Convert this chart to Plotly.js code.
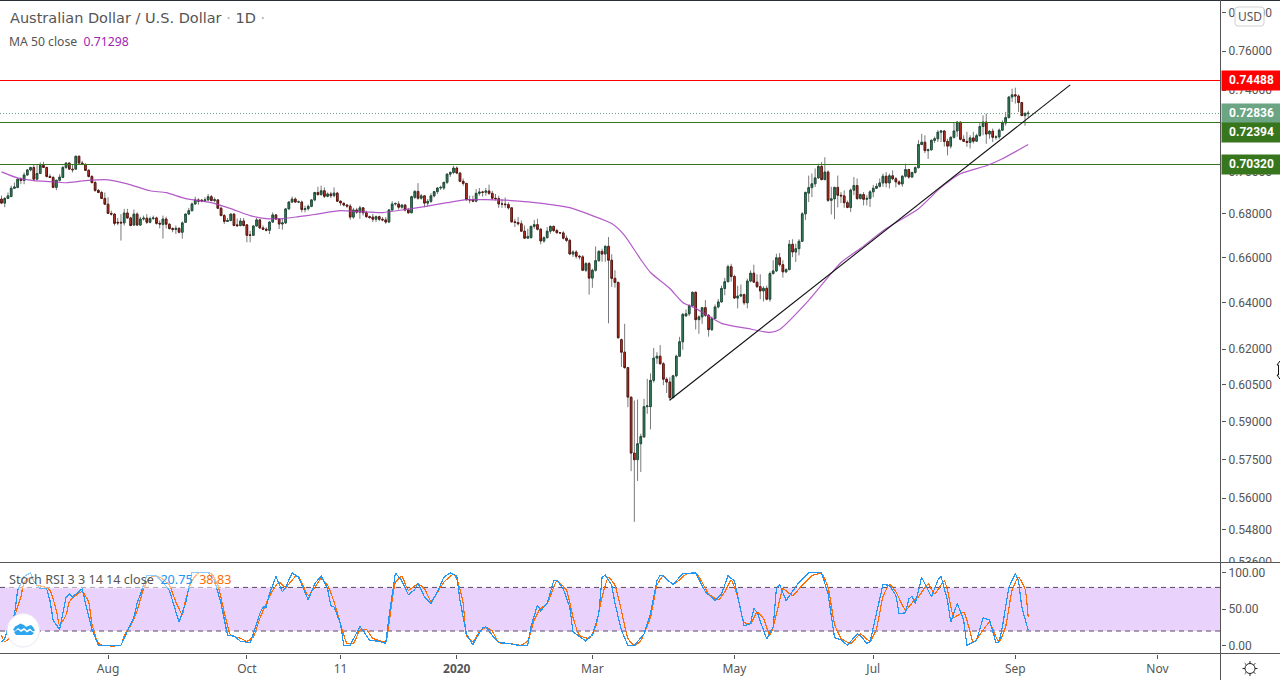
<!DOCTYPE html>
<html>
<head>
<meta charset="utf-8">
<script src="https://cdn.plot.ly/plotly-3.0.1.min.js"></script>
<style>html,body{margin:0;padding:0;background:#fff;overflow:hidden}
.scatterlayer .trace:nth-child(-n+4) .js-line{shape-rendering:crispEdges}</style>
</head>
<body>
<div id="chart" style="width:1280px;height:680px"></div>
<script>
const open = [
.6869,.6850,.6872,.6881,.6920,.6924,.6963,.6957,.6983,.7007,
.7019,.6963,.6990,.7029,.7019,.6976,.6971,.6924,.6958,.6971,
.7019,.7040,.7011,.7011,.7073,.7040,.7034,.7005,.6976,.6947,
.6910,.6900,.6872,.6845,.6802,.6799,.6761,.6761,.6758,.6804,
.6781,.6748,.6799,.6748,.6776,.6780,.6761,.6778,.6781,.6756,
.6751,.6776,.6752,.6732,.6728,.6733,.6715,.6761,.6799,.6815,
.6846,.6865,.6864,.6861,.6865,.6880,.6862,.6865,.6826,.6792,
.6765,.6769,.6799,.6749,.6746,.6767,.6749,.6703,.6701,.6744,
.6772,.6735,.6729,.6724,.6762,.6795,.6776,.6753,.6758,.6823,
.6855,.6869,.6855,.6855,.6820,.6824,.6835,.6865,.6900,.6890,.6908,
.6882,.6893,.6885,.6897,.6859,
.6849,.6841,.6836,.6785,.6818,.6808,.6828,.6805,.6787,.6785,
.6775,.6787,.6775,.6772,.6762,.6818,.6846,.6846,.6831,.6841,
.6818,.6805,.6877,.6905,.6873,.6884,.6850,.6858,.6884,.6904,
.6921,.6921,.6948,.6987,.6995,.7016,.6992,.6953,.6943,.6866,
.6866,.6859,.6896,.6902,.6901,.6907,.6896,.6873,.6871,.6846,
.6846,.6843,.6828,.6763,.6760,.6754,.6720,.6688,.6690,.6742,
.6750,.6729,.6675,.6690,.6720,.6742,.6723,.6713,.6712,.6688,
.6678,.6616,.6625,.6606,.6603,.6543,.6573,.6508,.6543,.6586,
.6628,.6616,.6651,.6588,.6507,
.6489,.6240,.6187,.6122,.6000,.5775,.5749,.5812,.5839,.5961,
.5961,.6069,.6162,.6170,.6138,.6074,.6062,.5998,.6088,.6170,
.6231,.6342,.6351,.6386,.6445,.6326,.6338,.6378,.6345,.6283,
.6331,.6381,.6403,.6462,.6492,.6559,.6515,.6420,.6429,.6435,
.6399,.6495,.6530,.6490,.6470,.6451,.6463,.6415,.6528,.6540,
.6599,.6568,.6536,.6546,.6660,.6625,.6640,.6674,.6800,.6897,
.6923,.6941,.6969,.7024,.6961,.6997,.6863,.6870,.6924,.6887,
.6884,.6852,.6830,.6911,.6933,.6871,.6890,.6868,.6872,.6903,
.6920,.6929,.6945,.6977,.6945,.6979,.6965,.6950,.6940,.6977,
.7009,.6973,.6995,.7018,.7130,.7141,.7100,.7104,.7150,.7158,
.7190,.7196,.7145,.7122,.7165,.7196,.7240,.7155,.7145,.7140,
.7162,.7146,.7173,.7218,.7240,.7181,.7195,.7165,.7167,.7200,
.7235,.7262,.7365,.7376,.7370,.7337,.7272,.7282];
const high = [
.6885,.6878,.6900,.6932,.6947,.6966,.6971,.6995,.7011,.7022,
.7035,.7035,.7043,.7046,.7022,.6987,.6979,.6958,.6987,.7027,
.7043,.7043,.7035,.7075,.7075,.7051,.7038,.7011,.6982,.6955,
.6916,.6908,.6900,.6877,.6815,.6802,.6781,.6799,.6823,.6823,
.6787,.6820,.6807,.6787,.6792,.6799,.6787,.6792,.6787,.6769,
.6792,.6787,.6756,.6738,.6746,.6738,.6765,.6802,.6828,.6854,
.6880,.6873,.6869,.6877,.6893,.6888,.6877,.6869,.6834,.6799,
.6781,.6802,.6802,.6778,.6781,.6781,.6753,.6722,.6744,.6781,
.6776,.6746,.6738,.6765,.6807,.6799,.6781,.6776,.6826,.6859,
.6881,.6877,.6862,.6862,.6838,.6843,.6869,.6903,.6927,.6932,.6924,
.6900,.6903,.6924,.6903,.6862,
.6854,.6846,.6846,.6828,.6828,.6838,.6831,.6815,.6792,.6800,
.6792,.6792,.6785,.6785,.6823,.6859,.6854,.6859,.6846,.6846,
.6828,.6885,.6911,.6944,.6893,.6888,.6869,.6896,.6908,.6926,
.6932,.6950,.6990,.7000,.7027,.7024,.6998,.6966,.6943,.6885,
.6885,.6916,.6921,.6908,.6921,.6937,.6908,.6893,.6885,.6869,
.6877,.6854,.6831,.6777,.6785,.6769,.6746,.6731,.6746,.6772,
.6777,.6735,.6696,.6739,.6746,.6746,.6731,.6716,.6720,.6700,
.6685,.6633,.6633,.6612,.6611,.6580,.6580,.6550,.6650,.6633,
.6640,.6655,.6693,.6615,.6543,
.6492,.6245,.6308,.6125,.6000,.5986,.5990,.5852,.5993,.6075,
.6098,.6205,.6187,.6217,.6145,.6082,.6082,.6092,.6176,.6252,
.6355,.6370,.6393,.6449,.6450,.6345,.6380,.6411,.6350,.6340,
.6392,.6416,.6474,.6509,.6568,.6572,.6523,.6474,.6480,.6440,
.6506,.6543,.6568,.6525,.6525,.6472,.6475,.6537,.6588,.6617,
.6620,.6588,.6552,.6680,.6683,.6663,.6683,.6808,.6904,.6980,
.6990,.7014,.7037,.7045,.7068,.7005,.6927,.6927,.6980,.6902,
.6910,.6862,.6919,.6973,.6966,.6895,.6902,.6887,.6911,.6936,
.6943,.6966,.6990,.6997,.6989,.7005,.6973,.6958,.6982,.7037,
.7013,.6998,.7024,.7151,.7182,.7175,.7110,.7155,.7168,.7200,
.7200,.7200,.7158,.7170,.7240,.7243,.7240,.7175,.7192,.7175,
.7192,.7182,.7240,.7273,.7282,.7200,.7208,.7175,.7208,.7248,
.7290,.7368,.7407,.7412,.7378,.7340,.7290,.7296];
const low = [
.6846,.6831,.6869,.6877,.6916,.6920,.6939,.6939,.6979,.7000,
.6955,.6958,.6987,.7016,.6971,.6968,.6920,.6911,.6952,.6968,
.7011,.7008,.6995,.7008,.7035,.7030,.7003,.6971,.6942,.6903,
.6897,.6869,.6843,.6799,.6792,.6746,.6748,.6677,.6746,.6776,
.6743,.6746,.6745,.6745,.6769,.6753,.6756,.6772,.6750,.6733,
.6686,.6733,.6728,.6715,.6707,.6710,.6686,.6758,.6794,.6810,
.6843,.6843,.6854,.6855,.6859,.6859,.6854,.6823,.6789,.6753,
.6762,.6766,.6743,.6742,.6742,.6742,.6669,.6669,.6700,.6741,
.6730,.6725,.6719,.6707,.6758,.6772,.6730,.6727,.6753,.6820,
.6853,.6853,.6850,.6807,.6807,.6815,.6831,.6859,.6885,.6885,.6874,
.6877,.6874,.6877,.6858,.6838,
.6835,.6828,.6773,.6777,.6800,.6777,.6792,.6781,.6777,.6762,
.6762,.6766,.6766,.6754,.6759,.6815,.6838,.6820,.6824,.6811,
.6800,.6803,.6870,.6866,.6866,.6831,.6834,.6850,.6877,.6893,
.6912,.6912,.6940,.6974,.6987,.6987,.6948,.6932,.6862,.6849,
.6854,.6854,.6885,.6881,.6885,.6888,.6866,.6862,.6828,.6828,
.6828,.6820,.6759,.6739,.6746,.6716,.6685,.6685,.6688,.6731,
.6723,.6660,.6667,.6688,.6708,.6716,.6708,.6708,.6682,.6670,
.6613,.6603,.6595,.6591,.6540,.6535,.6435,.6465,.6537,.6581,
.6581,.6581,.6310,.6469,.6466,
.6245,.6125,.6118,.5959,.5704,.5510,.5666,.5701,.5836,.5932,
.5869,.6060,.6138,.6136,.6049,.6017,.5984,.5995,.6082,.6167,
.6197,.6340,.6342,.6384,.6284,.6265,.6308,.6338,.6253,.6277,
.6329,.6375,.6400,.6432,.6490,.6492,.6417,.6375,.6424,.6390,
.6375,.6490,.6488,.6465,.6415,.6405,.6410,.6404,.6525,.6535,
.6560,.6510,.6530,.6543,.6602,.6580,.6610,.6671,.6772,.6855,
.6878,.6926,.6965,.6958,.6958,.6855,.6797,.6775,.6830,.6850,
.6828,.6826,.6808,.6888,.6866,.6868,.6839,.6839,.6832,.6878,
.6919,.6924,.6927,.6924,.6919,.6958,.6924,.6934,.6927,.6971,
.6965,.6971,.6989,.7014,.7126,.7088,.7060,.7100,.7137,.7142,
.7142,.7120,.7077,.7110,.7158,.7168,.7150,.7142,.7118,.7110,
.7135,.7142,.7168,.7175,.7133,.7158,.7142,.7153,.7158,.7197,
.7222,.7258,.7340,.7332,.7290,.7270,.7222,.7262];
const close = [
.6850,.6872,.6884,.6920,.6926,.6963,.6957,.6983,.7007,.7019,
.6963,.6990,.7029,.7019,.6976,.6971,.6924,.6958,.6973,.7019,
.7040,.7011,.7008,.7073,.7040,.7034,.7005,.6976,.6947,.6910,
.6900,.6872,.6845,.6802,.6799,.6756,.6758,.6758,.6804,.6781,
.6746,.6799,.6748,.6776,.6780,.6761,.6778,.6781,.6756,.6753,
.6776,.6752,.6732,.6728,.6733,.6715,.6758,.6799,.6815,.6846,
.6865,.6859,.6861,.6865,.6880,.6862,.6866,.6826,.6792,.6765,
.6769,.6799,.6746,.6745,.6767,.6746,.6701,.6701,.6744,.6772,
.6735,.6729,.6724,.6762,.6795,.6776,.6753,.6758,.6823,.6855,
.6869,.6855,.6856,.6820,.6824,.6835,.6865,.6900,.6890,.6908,.6882,
.6893,.6885,.6897,.6859,.6851,
.6841,.6836,.6785,.6818,.6808,.6828,.6805,.6787,.6783,.6775,
.6787,.6775,.6772,.6762,.6818,.6846,.6848,.6831,.6841,.6818,
.6805,.6880,.6905,.6873,.6884,.6850,.6858,.6884,.6904,.6921,
.6924,.6948,.6987,.6995,.7016,.6992,.6953,.6943,.6866,.6865,
.6859,.6896,.6902,.6901,.6907,.6896,.6873,.6871,.6846,.6846,
.6843,.6828,.6763,.6760,.6754,.6720,.6688,.6696,.6742,.6750,
.6729,.6675,.6690,.6720,.6742,.6723,.6713,.6712,.6688,.6678,
.6616,.6625,.6606,.6603,.6543,.6573,.6508,.6543,.6586,.6628,
.6616,.6651,.6588,.6507,.6489,
.6248,.6187,.6122,.6000,.5775,.5749,.5812,.5841,.5961,.5964,
.6069,.6162,.6170,.6138,.6074,.6062,.5998,.6088,.6170,.6231,
.6349,.6351,.6386,.6445,.6326,.6338,.6378,.6345,.6283,.6331,
.6381,.6403,.6462,.6492,.6559,.6515,.6420,.6429,.6435,.6399,
.6495,.6530,.6490,.6470,.6451,.6463,.6415,.6528,.6540,.6599,
.6568,.6536,.6546,.6660,.6625,.6640,.6674,.6800,.6900,.6923,
.6941,.6969,.7024,.6961,.6997,.6863,.6870,.6924,.6887,.6884,
.6852,.6830,.6911,.6933,.6871,.6890,.6868,.6872,.6903,.6920,
.6929,.6945,.6977,.6945,.6979,.6965,.6950,.6940,.6977,.7009,
.6973,.6995,.7018,.7130,.7141,.7100,.7104,.7150,.7158,.7190,
.7196,.7145,.7122,.7165,.7196,.7240,.7155,.7145,.7140,.7162,
.7146,.7173,.7218,.7240,.7181,.7195,.7165,.7167,.7200,.7235,
.7262,.7365,.7376,.7370,.7337,.7272,.7282,.7284];

const maBars = [0,5,10,15,20,26,33,39,46,51,57,65,71,77,82,87,92,97,105,111,118,125,131,138,144,150,158,168,176,183,189,193,198,201,207,211,215,223,231,238,241,250,257,260,266,274,284,291,297,305,310,318];
const maValues = [.6998,.6969,.6956,.6951,.6946,.6956,.6960,.6941,.6908,.6899,.6871,.6852,.6824,.6792,.6778,.6778,.6787,.6797,.6815,.6810,.6806,.6820,.6834,.6852,.6866,.6866,.6862,.6848,.6829,.6792,.6755,.6700,.6591,.6533,.6462,.6401,.6375,.6310,.6288,.6271,.6284,.6410,.6529,.6578,.6641,.6732,.6824,.6924,.6989,.7027,.7061,.7130];

const trendBars = [207,331];
const trendPrices = [.5988,.7426];

const kBars = [0,1,2,4,5,7,9,10,12,14,15,16,18,19,20,21,22,25,26,28,30,37,39,41,42,44,45,48,50,52,54,55,57,58,59,64,66,68,70,72,74,77,78,80,81,82,83,85,87,88,90,92,95,97,99,101,102,103,105,106,108,111,112,114,117,119,120,122,124,126,128,129,131,133,135,137,139,141,142,144,146,147,149,150,152,154,157,160,163,164,166,167,169,171,172,174,176,177,181,182,183,185,186,187,189,190,192,194,196,199,201,203,204,205,208,211,215,218,221,223,225,227,229,230,232,233,234,236,237,239,240,241,243,247,250,254,256,258,260,262,265,266,268,269,270,273,275,277,278,280,281,282,283,285,287,288,290,291,293,294,296,298,299,302,304,306,308,309,310,312,314,315,316,317,318];
const kValues = [5,9,26,42,76,95,100,89,78,78,62,35,22,44,66,71,67,78,58,23,0.5,0.5,21,39,58,85,96,96,87,76,48,32,58,80,100,100,89,58,14,13,6,4,16,44,53,53,71,95,74,80,100,94,63,85,96,78,55,53,30,0.5,0.5,26,21,7,6,3,39,100,89,70,77,86,67,58,74,94,100,96,62,16,0.5,10,24,26,14,4,3,0.5,0.5,26,56,48,58,89,90,78,53,19,6,12,14,44,94,97,83,58,21,0.5,0,16,44,89,97,95,84,99,100,74,62,71,96,89,48,27,30,51,46,21,9,26,78,84,62,87,100,100,71,11,8,0.5,16,14,3,5,26,84,83,69,44,45,64,68,58,94,76,67,90,95,62,32,58,35,0.5,7,38,35,4,5,26,80,99,89,53,35,20.75];
const dBars = [0,1,3,4,6,7,9,11,13,15,17,18,20,21,23,25,27,28,30,32,37,38,40,42,44,46,49,52,54,56,57,59,61,65,67,69,71,74,76,78,80,82,84,86,88,91,92,95,97,99,101,103,105,107,109,111,113,115,117,119,120,122,124,126,129,131,133,134,137,140,141,143,144,146,148,150,152,154,157,161,163,165,167,169,171,172,175,177,179,182,184,186,188,190,192,194,196,198,201,203,205,208,212,215,217,219,222,224,226,228,230,232,234,236,238,239,241,242,245,248,251,254,256,258,260,263,266,269,271,273,275,277,280,283,284,287,289,292,293,295,298,300,301,304,306,308,309,311,313,315,317,318];
const dValues = [14,5,14,39,67,87,94,83,81,76,48,28,42,60,69,74,60,30,3,0,0.5,14,28,48,78,94,94,83,60,43,62,89,100,99,83,46,14,10,6,12,37,58,76,87,80,95,95,69,80,92,83,60,30,3,3,21,22,10,7,5,30,87,95,76,85,78,61,66,87,98,92,58,14,5,19,25,20,4,3,0.5,7,35,51,58,80,89,76,39,14,10,26,67,94,83,48,10,0,7,39,83,96,84,98,100,87,71,63,74,90,67,32,30,46,37,14,26,62,78,69,83,96,99,80,30,10,3,16,6,23,67,84,74,49,64,67,85,71,89,76,39,46,19,4,21,32,12,5,26,76,94,78,38.83];

const priceTicks = [.78,.76,.74,.72,.70,.68,.66,.64,.62,.605,.59,.575,.56,.548,.536];
const priceTickLabels = ['0.78000','0.76000','0.74000','0.72000','0.70000','0.68000','0.66000','0.64000','0.62000','0.60500','0.59000','0.57500','0.56000','0.54800','0.53600'];
const stochTicks = [0,50,100];
const stochTickLabels = ['0.00','50.00','100.00'];
const dateTicks = [33,76,105,141,183,227,270,314,358];
const dateLabels = ['Aug','Oct','11','<b>2020</b>','Mar','May','Jul','Sep','Nov'];

const resistance = .74488, lastPrice = .72836, supportHigh = .72394, supportLow = .70320;
const stochUpper = 80, stochLower = 20;

const FONT = '"Noto Sans", sans-serif', TICKFONT = 'Roboto, sans-serif', GREY = '#555';
const PW = 1221, PH = 653, TOP = 1;
const X = px => px / PW;
const Y = py => (TOP + PH - py) / PH;
const barsIdx = open.map((_, i) => i);
const xMin = -0.4645, xMax = 377.7;
const poly = pts => pts.map((p, i) => (i ? 'L' : 'M') + X(p[0]).toFixed(5) + ',' + Y(p[1]).toFixed(5)).join(' ');

function levelLine(v, color, width, dash) {
  return {type:'scatter', mode:'lines', x:[xMin,xMax], y:[v,v], xaxis:'x', yaxis:'y',
    line:{color:color, width:width, dash:dash||'solid'}, hoverinfo:'skip', showlegend:false};
}

const traces = [
  levelLine(resistance,'#ff0000',1),
  levelLine(supportHigh,'#38761d',1),
  levelLine(supportLow,'#38761d',1),
  levelLine(lastPrice,'#6ba583',1,'1px,2px'),
  {type:'candlestick', x:barsIdx, open:open, high:high, low:low, close:close, xaxis:'x', yaxis:'y', width:0.05,
   increasing:{line:{color:'#7a7a7a',width:1},fillcolor:'#7a7a7a'},
   decreasing:{line:{color:'#7a7a7a',width:1},fillcolor:'#7a7a7a'},
   whiskerwidth:0, hoverinfo:'skip', showlegend:false},
  {type:'candlestick', x:barsIdx, open:open, close:close,
   high:open.map((o,i)=>Math.max(o,close[i])), low:open.map((o,i)=>Math.min(o,close[i])),
   xaxis:'x', yaxis:'y', width:0.6,
   increasing:{line:{color:'#1f4f3a',width:1},fillcolor:'#3b8d66'},
   decreasing:{line:{color:'#5c1710',width:1},fillcolor:'#d8392c'},
   whiskerwidth:0, hoverinfo:'skip', showlegend:false},
  {type:'scatter', mode:'lines', x:maBars, y:maValues, xaxis:'x', yaxis:'y',
   line:{color:'#a63ec0',width:1.2,shape:'spline',smoothing:0.6}, opacity:0.85, hoverinfo:'skip', showlegend:false},
  {type:'scatter', mode:'lines', x:trendBars, y:trendPrices, xaxis:'x', yaxis:'y',
   line:{color:'#111',width:1.1}, hoverinfo:'skip', showlegend:false},
  {type:'scatter', mode:'lines', x:dBars, y:dValues, xaxis:'x', yaxis:'y2',
   line:{color:'#ff6d00',width:1.2,shape:'spline',smoothing:0.5}, hoverinfo:'skip', showlegend:false},
  {type:'scatter', mode:'lines', x:kBars, y:kValues, xaxis:'x', yaxis:'y2',
   line:{color:'#2196f3',width:1.2}, hoverinfo:'skip', showlegend:false}
];

const frame = {color:GREY,width:1};
const rays = [];
for (let k = 0; k < 8; k++) {
  const a = k * Math.PI / 4, cx = 1250, cy = 668.5;
  rays.push({type:'path', xref:'paper', yref:'paper', layer:'above',
    path: poly([[cx+Math.cos(a)*5, cy+Math.sin(a)*5],[cx+Math.cos(a)*7.5, cy+Math.sin(a)*7.5]]),
    line:{color:'#222',width:1}});
}
const usdBox = 'M'+X(1238)+','+Y(7)+' L'+X(1261)+','+Y(7)+' Q'+X(1264)+','+Y(7)+' '+X(1264)+','+Y(10)+
  ' L'+X(1264)+','+Y(23)+' Q'+X(1264)+','+Y(26)+' '+X(1261)+','+Y(26)+' L'+X(1238)+','+Y(26)+
  ' Q'+X(1235)+','+Y(26)+' '+X(1235)+','+Y(23)+' L'+X(1235)+','+Y(10)+' Q'+X(1235)+','+Y(7)+' '+X(1238)+','+Y(7)+' Z';

const shapes = [
  {type:'rect', xref:'paper', yref:'y2', x0:0, x1:1, y0:stochLower, y1:stochUpper, layer:'below', fillcolor:'#e9d3fd', line:{width:0}},
  {type:'line', xref:'paper', yref:'y2', x0:0, x1:1, y0:stochUpper, y1:stochUpper, layer:'below', line:{color:'#5a4a66',width:1,dash:'5px,4px'}},
  {type:'line', xref:'paper', yref:'y2', x0:0, x1:1, y0:stochLower, y1:stochLower, layer:'below', line:{color:'#5a4a66',width:1,dash:'5px,4px'}},
  // clip of the lowest price label at the pane edge
  {type:'rect', xref:'paper', yref:'paper', x0:X(1222), x1:X(1280), y0:Y(563), y1:Y(566.5), fillcolor:'#fff', line:{width:0}, layer:'above'},
  {type:'line', xref:'paper', yref:'paper', x0:X(0), x1:X(1280), y0:Y(0.5), y1:Y(0.5), line:{color:'#2a2e39',width:1}},
  {type:'line', xref:'paper', yref:'paper', x0:X(0), x1:X(1280), y0:Y(562.5), y1:Y(562.5), line:frame, layer:'above'},
  {type:'line', xref:'paper', yref:'paper', x0:X(0), x1:X(1280), y0:Y(653.5), y1:Y(653.5), line:frame},
  {type:'line', xref:'paper', yref:'paper', x0:X(1220.5), x1:X(1220.5), y0:Y(0), y1:Y(680), line:frame},
  {type:'path', xref:'paper', yref:'paper', path:usdBox, fillcolor:'#fff', line:{color:'#d0d0d0',width:1}, layer:'above'},
  // logo badge
  {type:'circle', xref:'paper', yref:'paper', x0:X(7), x1:X(39.5), y0:Y(613.5), y1:Y(647), fillcolor:'#fff', line:{color:'#ece4f2',width:1}, layer:'above'},
  {type:'path', xref:'paper', yref:'paper', layer:'above', fillcolor:'#2ea6ee', line:{width:0},
   path: poly([[13,630],[15,626.5],[18,625],[20.5,623.5],[24,625],[26,627],[28,626],[31,625],[33,627],[35,630.5],[33,631.5],[30,628.5],[27,630.5],[24,628],[21,630],[18,628],[15,631]])+' Z'},
  {type:'path', xref:'paper', yref:'paper', layer:'above', fillcolor:'#2ea6ee', line:{width:0},
   path: poly([[14,632],[18,629.5],[21,632],[24,630],[27,632.5],[30,630.5],[34,633],[32,635],[16,635]])+' Z'},
  // settings icon
  {type:'circle', xref:'paper', yref:'paper', x0:X(1245), x1:X(1255), y0:Y(663.5), y1:Y(673.5), fillcolor:'#fff', line:{color:'#222',width:1}},
  // mouse cursor at the right edge
  {type:'path', xref:'paper', yref:'paper', layer:'above', fillcolor:'#fff', line:{color:'#111',width:1},
   path: poly([[1280,361],[1277,365],[1278.5,365],[1278.5,375],[1277,375],[1280,379]])}
].concat(rays);

function tag(v, text, bg, shift) {
  return {xref:'paper', yref:'y', x:X(1221), y:Math.log10(v), xanchor:'left', yanchor:'middle', yshift:shift||0,
    text:'<b>'+text+'</b>', showarrow:false, width:59, height:18.5, align:'center', bgcolor:bg, borderpad:0,
    font:{family:TICKFONT,size:12,color:'#fff'}};
}
const legend = (px, py, text, size, bg, family) => ({xref:'paper', yref:'paper', x:X(px), y:Y(py), xanchor:'left', yanchor:'middle',
  text:text, showarrow:false, font:{family:family||FONT,size:size,color:GREY}, bgcolor:bg||'rgba(0,0,0,0)', borderpad:0, align:'left'});

const annotations = [
  tag(resistance,'0.74488','#ff0000'),
  tag(lastPrice,'0.72836','#6ba583'),
  tag(supportHigh,'0.72394','#38761d',-10),
  tag(supportLow,'0.70320','#38761d'),
  legend(8.5,18,'Australian Dollar / U.S. Dollar <span style="color:#aaa">·</span> 1D <span style="color:#aaa">·</span>',14.5,null,'"DejaVu Sans", sans-serif'),
  legend(8,41.5,'MA 50 close  <span style="color:#9c27b0">0.71298</span>',12.2),
  legend(8,579,'Stoch RSI 3 3 14 14 close  <span style="color:#2196f3">20.75</span>  <span style="color:#ff6d00">38.83</span>',12.6,'rgba(255,255,255,0.5)'),
  {xref:'paper', yref:'paper', x:X(1249.5), y:Y(16.5), xanchor:'center', yanchor:'middle', text:'USD', showarrow:false,
   font:{family:FONT,size:12,color:GREY}}
];

const layout = {
  width:1280, height:680, margin:{l:0,r:59,t:1,b:26,pad:0}, paper_bgcolor:'#fff', plot_bgcolor:'#fff',
  showlegend:false, dragmode:false, hovermode:false,
  font:{family:FONT,size:12,color:GREY},
  xaxis:{anchor:'y2', domain:[0,1], range:[xMin,xMax], showgrid:false, zeroline:false, showline:false,
    rangeslider:{visible:false}, tickmode:'array', tickvals:dateTicks, ticktext:dateLabels,
    ticks:'outside', ticklen:4, tickcolor:GREY, tickangle:0, tickfont:{family:FONT,size:12,color:GREY}},
  yaxis:{type:'log', domain:[Y(563),1], range:[Math.log10(.53573),Math.log10(.7864)], side:'right', anchor:'x',
    showgrid:false, zeroline:false, showline:false, tickmode:'array', tickvals:priceTicks, ticktext:priceTickLabels,
    ticks:'outside', ticklen:4, tickcolor:GREY, ticklabelstandoff:0, tickfont:{family:TICKFONT,size:12,color:GREY}},
  yaxis2:{domain:[0,Y(563)], range:[-11.6,113.6], side:'right', anchor:'x', showgrid:false, zeroline:false, showline:false,
    tickmode:'array', tickvals:stochTicks, ticktext:stochTickLabels,
    ticks:'outside', ticklen:4, tickcolor:GREY, ticklabelstandoff:0, tickfont:{family:TICKFONT,size:12,color:GREY}},
  shapes:shapes, annotations:annotations
};
Plotly.newPlot('chart', traces, layout, {displayModeBar:false, staticPlot:true, responsive:false});
</script>
</body>
</html>
